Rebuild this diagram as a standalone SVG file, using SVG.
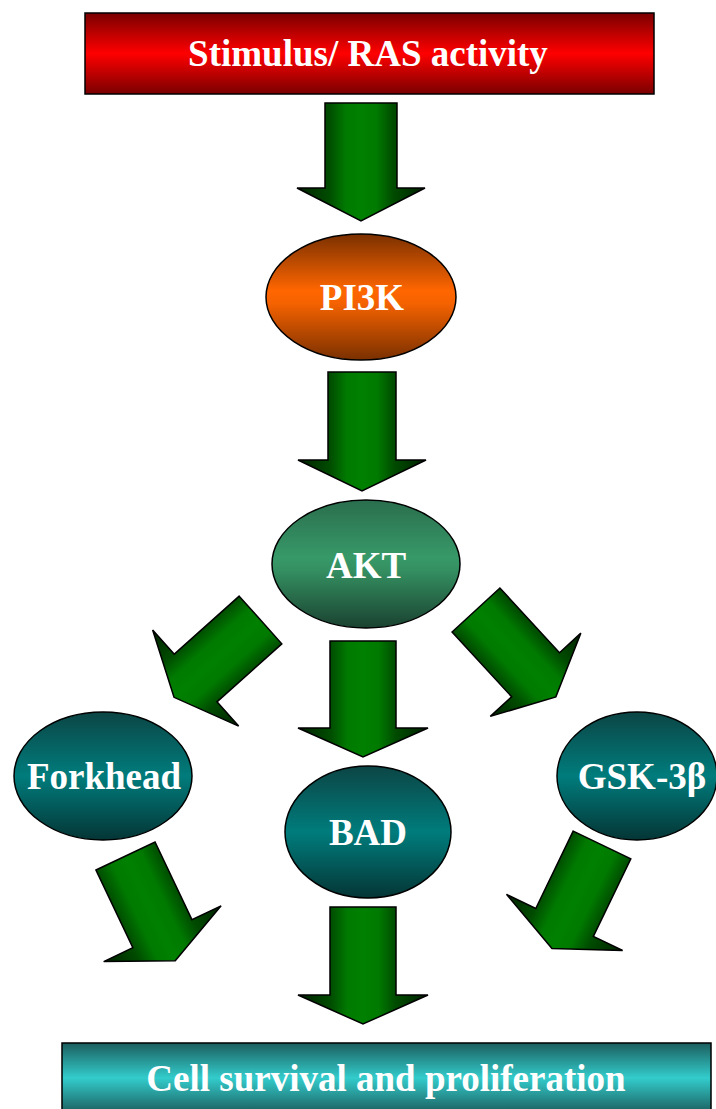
<svg xmlns="http://www.w3.org/2000/svg" width="716" height="1109" viewBox="0 0 716 1109">
<defs>
<linearGradient id="gRed" x1="0" y1="0" x2="0" y2="1">
<stop offset="0" stop-color="#7a0000"/><stop offset="0.5" stop-color="#ff0000"/><stop offset="1" stop-color="#7a0000"/>
</linearGradient>
<linearGradient id="gOrange" x1="0" y1="0" x2="0" y2="1">
<stop offset="0" stop-color="#7a3000"/><stop offset="0.45" stop-color="#ff6600"/><stop offset="0.55" stop-color="#f56200"/><stop offset="1" stop-color="#7a3000"/>
</linearGradient>
<linearGradient id="gSea" x1="0" y1="0" x2="0" y2="1">
<stop offset="0" stop-color="#2a6e4d"/><stop offset="0.45" stop-color="#379968"/><stop offset="0.55" stop-color="#348f61"/><stop offset="1" stop-color="#1a4230"/>
</linearGradient>
<linearGradient id="gTeal" x1="0" y1="0" x2="0" y2="1">
<stop offset="0" stop-color="#0c4545"/><stop offset="0.5" stop-color="#007c7c"/><stop offset="1" stop-color="#053535"/>
</linearGradient>
<linearGradient id="gCyan" x1="0" y1="0" x2="0" y2="1">
<stop offset="0" stop-color="#1c5e5e"/><stop offset="0.5" stop-color="#33cccc"/><stop offset="1" stop-color="#1c5e5e"/>
</linearGradient>
<linearGradient id="gGreen" x1="0" y1="0" x2="1" y2="0">
<stop offset="0" stop-color="#002000"/><stop offset="0.25" stop-color="#004c00"/><stop offset="0.38" stop-color="#007a00"/><stop offset="0.5" stop-color="#008000"/><stop offset="0.62" stop-color="#007a00"/><stop offset="0.75" stop-color="#004c00"/><stop offset="1" stop-color="#002000"/>
</linearGradient>
<style>
.lbl{font-family:"Liberation Serif","Times New Roman",serif;font-weight:bold;font-size:37px;fill:#ffffff;text-anchor:middle}
.nd{stroke:#000;stroke-width:1.5}
.arr{fill:url(#gGreen);stroke:#000;stroke-width:1.5;stroke-linejoin:miter}
</style>
</defs>
<g id="connectors">
<path class="arr" transform="translate(361,103)" d="M-36,0 H36 V85 H64 L0,118 L-64,85 H-36 Z"/>
<path class="arr" transform="translate(362,372)" d="M-34,0 H34 V88 H64 L0,119 L-64,88 H-34 Z"/>
<path class="arr" transform="translate(260.5,620) rotate(48.2)" d="M-32,0 H32 V87 H64.5 L0,116 L-64.5,87 H-32 Z"/>
<path class="arr" transform="translate(363,641)" d="M-33,0 H33 V87 H65 L0,116 L-65,87 H-33 Z"/>
<path class="arr" transform="translate(476,610) rotate(-42.6)" d="M-32.5,0 H32.5 V88 H61.5 L0,118 L-61.5,88 H-32.5 Z"/>
<path class="arr" transform="translate(125.5,856) rotate(-25.4)" d="M-32.7,0 H32.7 V86 H65 L0,116 L-65,86 H-32.7 Z"/>
<path class="arr" transform="translate(363,907)" d="M-33,0 H33 V88 H65 L0,117 L-65,88 H-33 Z"/>
<path class="arr" transform="translate(602,845) rotate(25.8)" d="M-32,0 H32 V86 H64.5 L0,115 L-64.5,86 H-32 Z"/>
</g>
<g id="stimulus">
<rect class="nd" x="85" y="13" width="569" height="81" fill="url(#gRed)" stroke-width="2"/>
<text class="lbl" x="368" y="66">Stimulus/ RAS activity</text>
</g>
<g id="pi3k">
<ellipse class="nd" cx="361" cy="297" rx="95" ry="63" fill="url(#gOrange)"/>
<text class="lbl" x="362" y="310">PI3K</text>
</g>
<g id="akt">
<ellipse class="nd" cx="366" cy="564" rx="94" ry="64" fill="url(#gSea)"/>
<text class="lbl" x="366" y="578">AKT</text>
</g>
<g id="forkhead">
<ellipse class="nd" cx="103" cy="776" rx="89" ry="64" fill="url(#gTeal)"/>
<text class="lbl" x="104" y="789">Forkhead</text>
</g>
<g id="bad">
<ellipse class="nd" cx="368" cy="832" rx="83" ry="66" fill="url(#gTeal)"/>
<text class="lbl" x="368" y="845">BAD</text>
</g>
<g id="gsk3b">
<ellipse class="nd" cx="637" cy="776" rx="80" ry="64" fill="url(#gTeal)"/>
<text class="lbl" x="642" y="789">GSK-3β</text>
</g>
<g id="cell-survival">
<rect class="nd" x="62" y="1043" width="649" height="70" fill="url(#gCyan)" stroke-width="2"/>
<text class="lbl" x="386" y="1091">Cell survival and proliferation</text>
</g>
</svg>
